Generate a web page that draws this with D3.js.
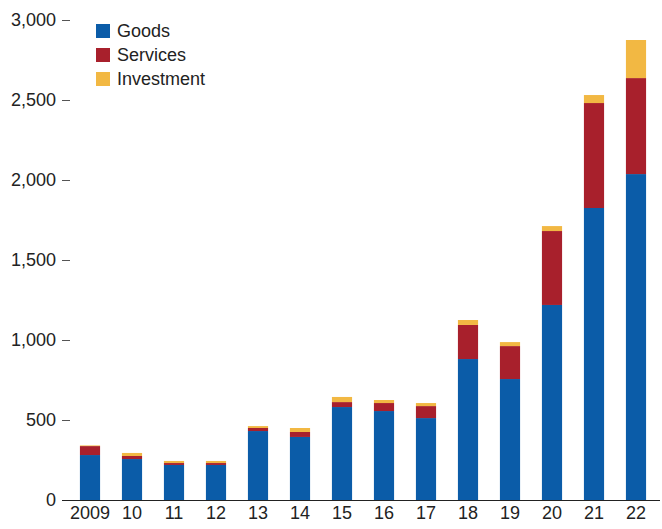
<!DOCTYPE html>
<html><head><meta charset="utf-8">
<script src="https://cdn.jsdelivr.net/npm/d3@7"></script>
<style>body{margin:0;background:#fff}text{font-family:"Liberation Sans Narrow","Arial Narrow","Liberation Sans",sans-serif}</style>
</head><body><svg id="c" width="662" height="529"></svg>
<script>
const years = ["2009","10","11","12","13","14","15","16","17","18","19","20","21","22"];
const goods = [281,256,219,219,431,394,581,556,512,881,756,1219,1825,2037];
const services = [56,19,12,12,19,31,31,50,75,213,206,462,656,600];
const investment = [4,19,13,13,12,25,32,19,19,31,25,31,50,238];
const seriesNames = ["Goods","Services","Investment"];
const colors = ["#0b5ca8","#a8202c","#f2b843"];
const yTicks = [0,500,1000,1500,2000,2500,3000];

const svg = d3.select("#c");
const x = d3.scaleBand().domain(years).range([69,657]).paddingInner(0.52).paddingOuter(0.26);
const y = d3.scaleLinear().domain([0,3000]).range([500,20]);

const rows = years.map((yr,i)=>({year:yr,Goods:goods[i],Services:services[i],Investment:investment[i]}));
const stack = d3.stack().keys(seriesNames)(rows);

svg.append("g").selectAll("g").data(stack).join("g")
  .attr("fill",(d,i)=>colors[i])
  .selectAll("rect").data(d=>d).join("rect")
  .attr("x",d=>x(d.data.year)).attr("width",x.bandwidth())
  .attr("y",d=>y(d[1])).attr("height",d=>y(d[0])-y(d[1]));

const ya = svg.append("g").attr("transform","translate(70,0)")
  .call(d3.axisLeft(y).tickValues(yTicks).tickFormat(d3.format(",")).tickSize(8).tickPadding(6));
ya.select(".domain").remove();
ya.selectAll("text").attr("font-size",18).attr("fill","#222");
ya.selectAll("line").attr("stroke","#555");

const xa = svg.append("g").attr("transform","translate(0,500)")
  .call(d3.axisBottom(x).tickSize(0).tickPadding(6));
xa.select(".domain").attr("d","M62,0.5H660").attr("stroke","#222");
xa.selectAll("text").attr("font-size",18).attr("fill","#222");

const lg = svg.append("g").attr("transform","translate(96,24)");
seriesNames.forEach((n,i)=>{
  lg.append("rect").attr("x",0).attr("y",i*24).attr("width",14).attr("height",14).attr("fill",colors[i]);
  lg.append("text").attr("x",21).attr("y",i*24+13).attr("font-size",18).attr("fill","#222").text(n);
});
</script></body></html>
